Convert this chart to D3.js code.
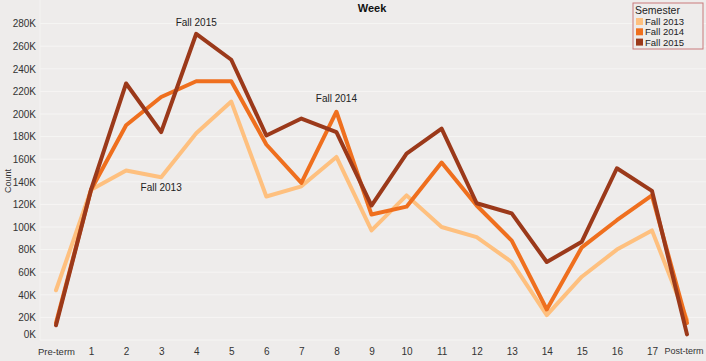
<!DOCTYPE html>
<html><head><meta charset="utf-8">
<script src="https://cdn.jsdelivr.net/npm/d3@7/dist/d3.min.js"></script>
<style>
body{margin:0;background:#eeeceb;}
svg{display:block;}
text{font-family:"Liberation Sans Narrow","Arial Narrow","Liberation Sans",Arial,sans-serif;}
</style></head>
<body>
<svg id="c" width="706" height="361"></svg>
<script>
const weeks = ["Pre-term","1","2","3","4","5","6","7","8","9","10","11","12","13","14","15","16","17","Post-term"];
const semesters = ["Fall 2013","Fall 2014","Fall 2015"];
const fall2013 = [44000,133000,150000,144000,183000,211000,127000,136000,162000,97000,128000,100000,91000,69000,22000,56000,80000,97000,18000];
const fall2014 = [15000,133000,190000,215000,229000,229000,173000,139000,202000,111000,118000,157000,119000,88000,27000,82000,106000,128000,15000];
const fall2015 = [13000,133000,227000,184000,271000,248000,181000,196000,184000,119000,165000,187000,121000,112000,69000,87000,152000,132000,5000];
const yTicks = [0,20000,40000,60000,80000,100000,120000,140000,160000,180000,200000,220000,240000,260000,280000];
const colors = ["#fec07f","#ef6f1e","#9b391a"];
const labelPos = [{s:0,i:3,dy:14},{s:1,i:8,dy:-10},{s:2,i:4,dy:-8}];

const svg = d3.select("#c");
const x = d3.scalePoint().domain(weeks).range([56,687]);
const y = d3.scaleLinear().domain([0,280000]).range([340,23.6]);

// gridlines
svg.append("g").selectAll("line").data(yTicks).join("line")
  .attr("x1",40).attr("x2",706).attr("y1",d=>y(d)).attr("y2",d=>y(d))
  .attr("stroke","#f6f5f4").attr("stroke-width",1);
svg.append("line").attr("x1",40).attr("x2",40).attr("y1",0).attr("y2",340)
  .attr("stroke","#f4f3f2");

// y axis
const yAxis = d3.axisLeft(y).tickValues(yTicks).tickSize(0).tickPadding(4)
  .tickFormat(d=>(d/1000)+"K");
const gy = svg.append("g").attr("transform","translate(40,0)").call(yAxis);
gy.select(".domain").remove();
gy.selectAll("text").attr("font-size",10).attr("fill","#333");
gy.selectAll(".tick").filter(d=>d===0).select("text").attr("dy","-0.3em");

// x axis
const xAxis = d3.axisBottom(x).tickSize(0).tickPadding(8);
const gx = svg.append("g").attr("transform","translate(0,340)").call(xAxis);
gx.select(".domain").remove();
gx.selectAll("text").attr("font-size",10).attr("fill","#333");
gx.selectAll(".tick").filter(d=>d==="Post-term").select("text")
  .attr("text-anchor","end").attr("x",16).attr("font-size",9);
gx.selectAll(".tick").filter(d=>d==="Pre-term").select("text")
  .attr("font-size",9.5);

// titles
svg.append("text").attr("x",372).attr("y",12).attr("text-anchor","middle")
  .attr("font-size",11).attr("font-weight","bold").attr("fill","#111").text("Week");
svg.append("text").attr("transform","translate(11,181) rotate(-90)")
  .attr("text-anchor","middle").attr("font-size",9).attr("fill","#333").text("Count");

// lines
const series = [fall2013,fall2014,fall2015];
const line = d3.line().x((d,i)=>x(weeks[i])).y(d=>y(d));
svg.append("g").selectAll("path").data(series).join("path")
  .attr("d",line).attr("fill","none")
  .attr("stroke",(d,i)=>colors[i]).attr("stroke-width",4)
  .attr("stroke-linejoin","round").attr("stroke-linecap","round");

// line labels
svg.append("g").selectAll("text").data(labelPos).join("text")
  .attr("x",d=>x(weeks[d.i])).attr("y",d=>y(series[d.s][d.i])+d.dy)
  .attr("text-anchor","middle").attr("font-size",10).attr("fill","#222")
  .text(d=>semesters[d.s]);

// legend
const lg = svg.append("g").attr("transform","translate(633,3)");
lg.append("rect").attr("width",70).attr("height",46).attr("fill","#eeeceb")
  .attr("stroke","#c97a7d").attr("stroke-width",1);
lg.append("text").attr("x",2).attr("y",11).attr("font-size",10.5).attr("fill","#222").text("Semester");
semesters.forEach((s,i)=>{
  lg.append("rect").attr("x",3).attr("y",15+i*10.3).attr("width",7).attr("height",7).attr("fill",colors[i]);
  lg.append("text").attr("x",12).attr("y",22+i*10.3).attr("font-size",9.5).attr("fill","#222").text(s);
});
</script>
</body></html>
